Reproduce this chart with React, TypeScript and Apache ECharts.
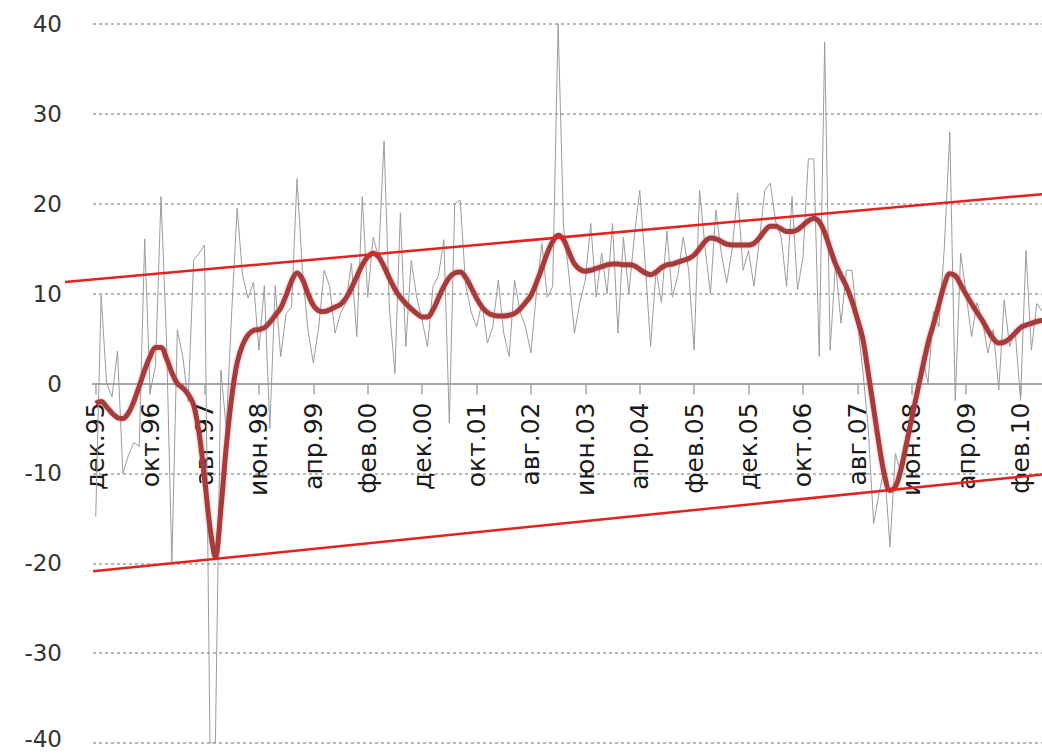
import React, { useEffect, useRef } from "react";
import * as echarts from "echarts";

const monthNames = ["янв", "фев", "мар", "апр", "май", "июн", "июл", "авг", "сен", "окт", "ноя", "дек"];
const startYear = 1995;
const startMonth = 11; // December (0-based)
const monthCount = 175;

const categories: string[] = [];
for (let i = 0; i < monthCount; i++) {
  const m = (startMonth + i) % 12;
  const y = startYear + Math.floor((startMonth + i) / 12);
  categories.push(monthNames[m] + "." + String(y % 100).padStart(2, "0"));
}

// monthly values (grey line)
const monthly: number[] = [
  -14.8, 9.8, 0.0, -1.5, 3.6, -10.0, -8.0, -6.6, -7.0, 16.1,
  -1.0, 2.0, 20.8, 5.0, -20.0, 6.0, 3.0, -2.0, 13.7, 14.5,
  15.4, -40.0, -40.0, 1.5, -5.0, 8.0, 19.5, 12.0, 9.5, 11.3,
  3.7, 10.9, -5.0, 10.9, 3.0, 7.8, 8.5, 22.8, 12.6, 6.0,
  2.3, 6.3, 12.6, 10.8, 5.6, 7.8, 9.0, 13.4, 5.2, 20.8,
  9.6, 16.3, 14.0, 27.0, 8.2, 1.1, 19.0, 4.1, 13.7, 9.6,
  7.0, 4.1, 10.8, 12.0, 16.0, -4.4, 20.0, 20.4, 11.0, 8.0,
  6.3, 9.0, 4.5, 6.3, 11.5, 5.6, 3.0, 11.5, 8.0, 6.3,
  3.4, 10.0, 15.6, 9.6, 10.8, 40.0, 17.4, 12.0, 5.6, 9.0,
  11.5, 17.8, 9.6, 14.5, 10.0, 17.8, 5.6, 16.3, 10.0, 16.3,
  21.5, 13.4, 4.1, 12.6, 9.0, 17.0, 9.6, 12.0, 16.3, 12.6,
  3.7, 21.5, 15.2, 10.0, 19.3, 14.5, 11.2, 15.0, 21.2, 12.6,
  14.8, 10.8, 16.0, 21.5, 22.3, 18.0, 16.3, 10.8, 20.8, 10.4,
  14.0, 25.0, 25.0, 3.0, 38.0, 3.7, 13.4, 6.7, 12.6, 12.6,
  7.0, 1.5, -5.0, -15.6, -12.2, -9.3, -18.2, -7.8, -10.0, -6.0,
  -4.0, -2.0, 3.0, 0.0, 8.0, 6.3, 15.2, 28.0, -1.9, 14.5,
  10.0, 5.2, 9.0, 7.0, 3.4, 6.0, -0.7, 9.3, 4.1, 6.0,
  -1.9, 14.8, 3.7, 8.9, 8.0,
];

// smoothed values (dark red line)
const smoothed: number[] = [
  -2.2, -2.0, -2.6, -3.3, -3.8, -3.9, -3.3, -2.0, -0.3, 1.5,
  3.0, 4.0, 4.0, 2.8, 1.2, 0.0, -0.5, -1.2, -2.4, -5.5,
  -10.5, -16.0, -19.3, -14.0, -7.0, -1.5, 2.3, 4.3, 5.4, 5.9,
  6.0, 6.2, 6.8, 7.6, 8.4, 9.8, 11.4, 12.3, 11.6, 10.0,
  8.7, 8.1, 8.0, 8.2, 8.5, 8.8, 9.5, 10.6, 11.9, 13.2,
  14.1, 14.5, 14.1, 13.0, 11.7, 10.5, 9.6, 8.9, 8.3, 7.8,
  7.4, 7.4, 8.2, 9.5, 10.8, 11.8, 12.3, 12.4, 11.8, 10.7,
  9.5, 8.5, 7.9, 7.6, 7.5, 7.5, 7.6, 7.8, 8.3, 9.0,
  9.8, 11.2, 12.8, 14.5, 15.8, 16.5, 16.0, 14.6, 13.3, 12.7,
  12.5, 12.6, 12.8, 13.0, 13.2, 13.3, 13.3, 13.2, 13.2, 13.1,
  12.7, 12.3, 12.1, 12.4, 12.9, 13.2, 13.3, 13.5, 13.7, 13.9,
  14.3, 15.0, 15.8, 16.2, 16.1, 15.8, 15.5, 15.4, 15.4, 15.4,
  15.4, 15.6, 16.2, 17.0, 17.5, 17.5, 17.2, 16.9, 16.9, 17.1,
  17.6, 18.1, 18.4, 18.0, 16.8, 15.0, 13.3, 12.0, 10.8, 9.2,
  7.2, 5.0, 1.2, -2.8, -6.8, -10.2, -11.9, -11.5, -9.6, -6.8,
  -3.9, -1.0, 1.8, 4.5, 6.6, 8.8, 11.0, 12.2, 12.0, 11.0,
  9.9, 8.9, 7.9, 7.0, 5.9, 5.0, 4.5, 4.6, 5.0, 5.6,
  6.2, 6.5, 6.7, 6.9, 7.0,
];

// channel lines: [month index, value]
const channelStart = -5.65;
const upperChannel: number[][] = [[-5.65, 11.3], [174.5, 21.1]];
const lowerChannel: number[][] = [[-0.5, -20.9], [174.5, -10.1]];

const yTicks = { min: -40, max: 40, interval: 10 };

export default function App() {
  const ref = useRef<HTMLDivElement>(null);
  useEffect(() => {
    if (!ref.current) return;
    const chart = echarts.init(ref.current, null, { renderer: "svg" });
    const font = "DejaVu Sans";
    const H = 754;
    const top = 24;
    const bottom = 11;
    const left = 93;
    const right = -3;
    const plotH = H - top - bottom;
    const zeroY = top + plotH * (yTicks.max / (yTicks.max - yTicks.min));
    const bandW = (1042 - left - right) / monthCount;
    const channelLeft = left + (channelStart + 0.5) * bandW;
    chart.setOption({
      animation: false,
      backgroundColor: "#ffffff",
      grid: [
        { left, right, top, bottom, containLabel: false, outerBoundsMode: "none" },
        { left, right, top, bottom: H - zeroY, containLabel: false, outerBoundsMode: "none" },
        { left: channelLeft, right, top, bottom, containLabel: false, outerBoundsMode: "none" },
      ],
      xAxis: [
        {
          type: "category",
          gridIndex: 0,
          data: categories,
          boundaryGap: true,
          axisLine: { show: false },
          axisTick: { show: false },
          axisLabel: { show: false },
          splitLine: { show: false },
        },
        {
          type: "value",
          gridIndex: 2,
          min: channelStart,
          max: monthCount - 0.5,
          show: false,
        },
        {
          type: "category",
          gridIndex: 1,
          data: categories,
          boundaryGap: true,
          position: "bottom",
          axisLine: { onZero: false, lineStyle: { color: "#a6a6a6", width: 2 } },
          axisTick: { show: true, interval: 9, alignWithLabel: true, length: 11, lineStyle: { color: "#a6a6a6", width: 1.5 } },
          axisLabel: {
            interval: 9,
            rotate: 90,
            margin: 19,
            color: "#1a1a1a",
            fontFamily: font,
            fontSize: 25,
          },
          splitLine: { show: false },
        },
      ],
      yAxis: [
        {
          type: "value",
          gridIndex: 0,
          min: yTicks.min,
          max: yTicks.max,
          interval: yTicks.interval,
          axisLine: { show: false },
          axisTick: { show: false },
          axisLabel: {
            color: "#333333",
            fontFamily: font,
            fontSize: 23,
            margin: 31,
            formatter: (v: number) => (v === yTicks.min ? "{low|" + v + "}" : String(v)),
            rich: {
              low: { color: "#333333", fontFamily: font, fontSize: 23, padding: [0, 0, 8, 0] },
            },
          },
          splitLine: { show: true, lineStyle: { color: "#a0a0a0", type: [3, 3], width: 1.5 } },
        },
        {
          type: "value",
          gridIndex: 1,
          min: 0,
          max: 1,
          show: false,
        },
        {
          type: "value",
          gridIndex: 2,
          min: yTicks.min,
          max: yTicks.max,
          show: false,
        },
      ],
      series: [
        {
          type: "line",
          xAxisIndex: 0,
          yAxisIndex: 0,
          data: monthly,
          symbol: "none",
          lineStyle: { color: "#9c9c9c", width: 1 },
          z: 2,
        },
        {
          type: "line",
          xAxisIndex: 0,
          yAxisIndex: 0,
          data: smoothed,
          symbol: "none",
          smooth: 0.35,
          lineStyle: { color: "#a33d3d", width: 5, shadowColor: "rgba(230,90,90,0.55)", shadowBlur: 3 },
          z: 3,
        },
        {
          type: "line",
          xAxisIndex: 1,
          yAxisIndex: 2,
          data: upperChannel,
          symbol: "none",
          lineStyle: { color: "#e3221f", width: 2.5 },
          z: 4,
        },
        {
          type: "line",
          xAxisIndex: 1,
          yAxisIndex: 2,
          data: lowerChannel,
          symbol: "none",
          lineStyle: { color: "#e3221f", width: 2.5 },
          z: 4,
        },
      ],
    });
    return () => chart.dispose();
  }, []);
  return (
    <div
      ref={ref}
      style={{ position: "fixed", left: 0, top: 0, width: 1042, height: 754, background: "#fff" }}
    />
  );
}
